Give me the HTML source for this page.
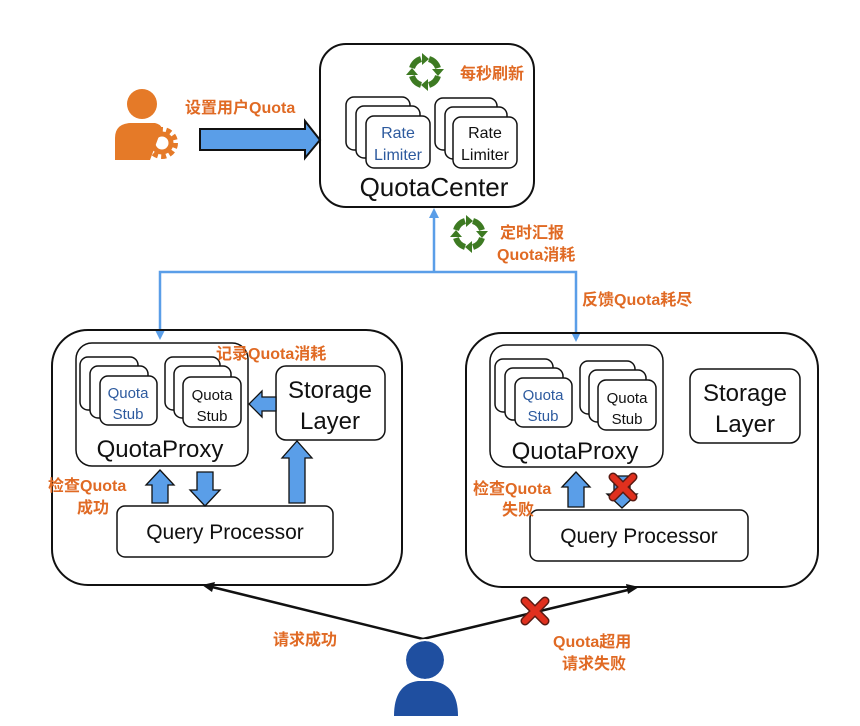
<!DOCTYPE html>
<html><head><meta charset="utf-8"><style>
html,body{margin:0;padding:0;background:#fff;width:860px;height:726px;overflow:hidden}
svg{display:block}
.cn{font-family:"Liberation Sans","Noto Sans CJK SC",sans-serif;font-weight:bold;fill:#e06a24}
.t{font-family:"Liberation Sans","Noto Sans CJK SC",sans-serif;fill:#111}
</style></head><body>
<svg width="860" height="726" viewBox="0 0 860 726" xmlns="http://www.w3.org/2000/svg">
<defs>
<g id="rf">
  <g fill="none" stroke="#3d7a22" stroke-width="6">
    <path d="M-13,-4 A14,14 0 0 1 -4,-13"/>
    <path d="M4,-13 A14,14 0 0 1 13,-4"/>
    <path d="M13,4 A14,14 0 0 1 4,13"/>
    <path d="M-4,13 A14,14 0 0 1 -13,4"/>
  </g>
  <g fill="#3d7a22">
    <polygon points="-3,-19 -3,-7 4,-13"/>
    <polygon points="19,-3 7,-3 13,4"/>
    <polygon points="3,19 3,7 -4,13"/>
    <polygon points="-19,3 -7,3 -13,-4"/>
  </g>
</g>
<g id="cross">
  <path d="M-10,-10 L10,10 M10,-10 L-10,10" stroke="#5a1a12" stroke-width="9" stroke-linecap="round"/>
  <path d="M-10,-10 L10,10 M10,-10 L-10,10" stroke="#e0301e" stroke-width="6" stroke-linecap="round"/>
</g>
</defs>

<!-- QuotaCenter -->
<rect x="320" y="44" width="214" height="163" rx="26" fill="#fff" stroke="#111" stroke-width="2"/>
<use href="#rf" x="425" y="72"/>
<text class="cn" x="460" y="79" font-size="16">每秒刷新</text>
<g fill="#fff" stroke="#111" stroke-width="1.5">
  <rect x="346" y="97" width="64" height="53" rx="8"/>
  <rect x="356" y="106" width="64" height="52" rx="8"/>
  <rect x="366" y="116" width="64" height="52" rx="8"/>
  <rect x="435" y="98" width="62" height="52" rx="8"/>
  <rect x="445" y="107" width="62" height="52" rx="8"/>
  <rect x="453" y="117" width="64" height="51" rx="8"/>
</g>
<text class="t" x="398" y="138" font-size="16" text-anchor="middle" fill="#2d5a9e" style="fill:#2d5a9e">Rate</text>
<text class="t" x="398" y="160" font-size="16" text-anchor="middle" style="fill:#2d5a9e">Limiter</text>
<text class="t" x="485" y="138" font-size="16" text-anchor="middle">Rate</text>
<text class="t" x="485" y="160" font-size="16" text-anchor="middle">Limiter</text>
<text class="t" x="434" y="196" font-size="26" text-anchor="middle">QuotaCenter</text>

<!-- admin user -->
<circle cx="142" cy="104" r="15" fill="#e57a28"/>
<path d="M115,160 L115,138 Q115,124 130,123 L155,123 Q160,124 162,128 L150,160 Z" fill="#e57a28"/>
<circle cx="162" cy="143" r="12" fill="none" stroke="#e57a28" stroke-width="8" stroke-dasharray="4.5 3"/>
<circle cx="162" cy="143" r="9" fill="none" stroke="#e57a28" stroke-width="5"/>
<text class="cn" x="185" y="113" font-size="16">设置用户Quota</text>
<polygon points="200,129 305,129 305,121 320,140 305,158 305,150 200,150" fill="#5a9ee8" stroke="#111" stroke-width="2"/>

<!-- blue connectors -->
<g stroke="#5a9ee8" stroke-width="2.5" fill="none">
  <path d="M434,214 L434,272 M160,334 L160,272 L576,272 L576,336"/>
</g>
<polygon points="434,208 429,218 439,218" fill="#5a9ee8"/>
<polygon points="160,340 155,330 165,330" fill="#5a9ee8"/>
<polygon points="576,342 571,332 581,332" fill="#5a9ee8"/>
<use href="#rf" x="469" y="234"/>
<text class="cn" x="500" y="238" font-size="16">定时汇报</text>
<text class="cn" x="497" y="260" font-size="16">Quota消耗</text>
<text class="cn" x="582" y="305" font-size="16">反馈Quota耗尽</text>

<!-- left box -->
<rect x="52" y="330" width="350" height="255" rx="36" fill="none" stroke="#111" stroke-width="2"/>
<rect x="76" y="343" width="172" height="123" rx="16" fill="#fff" stroke="#111" stroke-width="1.5"/>
<g fill="#fff" stroke="#111" stroke-width="1.5">
  <rect x="80" y="357" width="58" height="53" rx="8"/>
  <rect x="90" y="366" width="58" height="52" rx="8"/>
  <rect x="100" y="376" width="57" height="49" rx="8"/>
  <rect x="165" y="357" width="55" height="53" rx="8"/>
  <rect x="174" y="366" width="57" height="52" rx="8"/>
  <rect x="183" y="377" width="58" height="50" rx="8"/>
</g>
<text class="t" x="128" y="398" font-size="15" text-anchor="middle" style="fill:#2d5a9e">Quota</text>
<text class="t" x="128" y="419" font-size="15" text-anchor="middle" style="fill:#2d5a9e">Stub</text>
<text class="t" x="212" y="400" font-size="15" text-anchor="middle">Quota</text>
<text class="t" x="212" y="421" font-size="15" text-anchor="middle">Stub</text>
<text class="t" x="160" y="457" font-size="24" text-anchor="middle">QuotaProxy</text>
<rect x="276" y="366" width="109" height="74" rx="10" fill="#fff" stroke="#111" stroke-width="1.5"/>
<text class="t" x="330" y="398" font-size="24" text-anchor="middle">Storage</text>
<text class="t" x="330" y="429" font-size="24" text-anchor="middle">Layer</text>
<text class="cn" x="216" y="359" font-size="16">记录Quota消耗</text>
<rect x="117" y="506" width="216" height="51" rx="8" fill="#fff" stroke="#111" stroke-width="1.5"/>
<text class="t" x="225" y="539" font-size="21" text-anchor="middle">Query Processor</text>
<g fill="#5a9ee8" stroke="#111" stroke-width="1.3">
  <polygon points="152,503 152,485 146,485 160,470 174,485 168,485 168,503"/>
  <polygon points="197,472 213,472 213,490 220,490 205,506 190,490 197,490"/>
  <polygon points="289,503 289,458 282,458 297,441 312,458 305,458 305,503"/>
  <polygon points="276,397 262,397 262,391 249,404 262,417 262,411 276,411"/>
</g>
<text class="cn" x="48" y="491" font-size="16">检查Quota</text>
<text class="cn" x="77" y="513" font-size="16">成功</text>

<!-- right box -->
<rect x="466" y="333" width="352" height="254" rx="36" fill="none" stroke="#111" stroke-width="2"/>
<rect x="490" y="345" width="173" height="122" rx="16" fill="#fff" stroke="#111" stroke-width="1.5"/>
<g fill="#fff" stroke="#111" stroke-width="1.5">
  <rect x="495" y="359" width="58" height="53" rx="8"/>
  <rect x="505" y="368" width="58" height="52" rx="8"/>
  <rect x="515" y="378" width="57" height="49" rx="8"/>
  <rect x="580" y="361" width="55" height="53" rx="8"/>
  <rect x="589" y="370" width="57" height="52" rx="8"/>
  <rect x="598" y="380" width="58" height="50" rx="8"/>
</g>
<text class="t" x="543" y="400" font-size="15" text-anchor="middle" style="fill:#2d5a9e">Quota</text>
<text class="t" x="543" y="421" font-size="15" text-anchor="middle" style="fill:#2d5a9e">Stub</text>
<text class="t" x="627" y="403" font-size="15" text-anchor="middle">Quota</text>
<text class="t" x="627" y="424" font-size="15" text-anchor="middle">Stub</text>
<text class="t" x="575" y="459" font-size="24" text-anchor="middle">QuotaProxy</text>
<rect x="690" y="369" width="110" height="74" rx="10" fill="#fff" stroke="#111" stroke-width="1.5"/>
<text class="t" x="745" y="401" font-size="24" text-anchor="middle">Storage</text>
<text class="t" x="745" y="432" font-size="24" text-anchor="middle">Layer</text>
<rect x="530" y="510" width="218" height="51" rx="8" fill="#fff" stroke="#111" stroke-width="1.5"/>
<text class="t" x="639" y="543" font-size="21" text-anchor="middle">Query Processor</text>
<g fill="#5a9ee8" stroke="#111" stroke-width="1.3">
  <polygon points="568,507 568,487 562,487 576,472 590,487 584,487 584,507"/>
  <polygon points="614,476 630,476 630,494 637,494 622,508 607,494 614,494"/>
</g>
<use href="#cross" x="623" y="487"/>
<text class="cn" x="473" y="494" font-size="16">检查Quota</text>
<text class="cn" x="502" y="515" font-size="16">失败</text>

<!-- requests -->
<g stroke="#111" stroke-width="2.5" fill="none">
  <path d="M208,586 L423,639 L632,589"/>
</g>
<polygon points="202,585 215,582 212,592" fill="#111"/>
<polygon points="639,587 626,584 628,594" fill="#111"/>
<use href="#cross" x="535" y="611"/>
<text class="cn" x="273" y="645" font-size="16">请求成功</text>
<text class="cn" x="553" y="647" font-size="16">Quota超用</text>
<text class="cn" x="562" y="669" font-size="16">请求失败</text>
<circle cx="425" cy="660" r="19" fill="#1f4fa0"/>
<path d="M394,716 Q394,684 418,681 L432,681 Q458,684 458,716 Z" fill="#1f4fa0"/>
<circle cx="425" cy="660" r="20" fill="none" stroke="#fff" stroke-width="2"/>
</svg>
</body></html>
